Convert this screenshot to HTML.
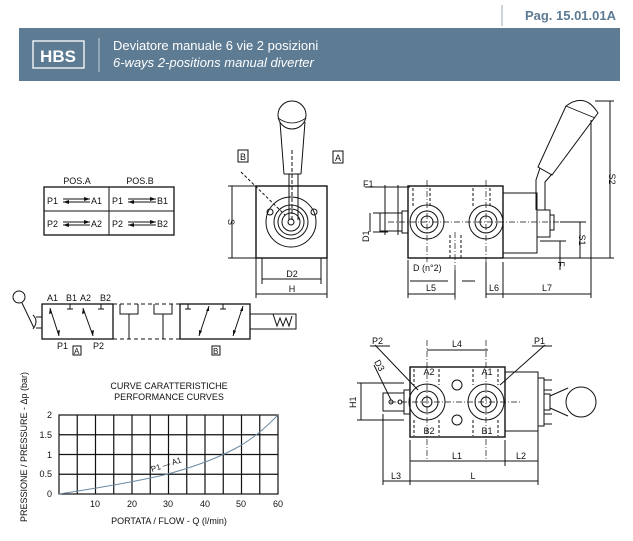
<!DOCTYPE html>
<html><head><meta charset="utf-8"><style>
html,body{margin:0;padding:0;background:#fff;}
svg{display:block;font-family:"Liberation Sans",sans-serif;}
</style></head><body>
<svg width="633" height="541" viewBox="0 0 633 541" xmlns="http://www.w3.org/2000/svg">
<!-- header -->
<line x1="502" y1="5" x2="502" y2="26" stroke="#9aa9b6" stroke-width="1"/>
<text x="616" y="20" font-size="13" font-weight="bold" fill="#5d7a93" text-anchor="end">Pag. 15.01.01A</text>
<rect x="19" y="28" width="601" height="53" fill="#5d7b93"/>
<rect x="33" y="41" width="51" height="27" fill="none" stroke="#fff" stroke-width="1.3"/>
<text x="58" y="62" font-size="17" font-weight="bold" fill="#fff" text-anchor="middle">HBS</text>
<line x1="99" y1="38" x2="99" y2="72" stroke="#c8d3dc" stroke-width="1"/>
<text x="113" y="50" font-size="13" fill="#fff">Deviatore manuale 6 vie 2 posizioni</text>
<text x="113" y="67" font-size="13" font-style="italic" fill="#fff">6-ways 2-positions manual diverter</text>

<g stroke="#111" fill="none" stroke-width="1">
<!-- table -->
<rect x="44" y="187" width="130" height="48" stroke-width="1.3"/>
<line x1="109" y1="187" x2="109" y2="235"/>
<line x1="44" y1="211" x2="174" y2="211"/>
<line x1="63" y1="199" x2="90" y2="199"/><line x1="63" y1="202" x2="90" y2="202"/>
<line x1="128" y1="199" x2="156" y2="199"/><line x1="128" y1="202" x2="156" y2="202"/>
<line x1="63" y1="222" x2="90" y2="222"/><line x1="63" y1="225" x2="90" y2="225"/>
<line x1="128" y1="222" x2="156" y2="222"/><line x1="128" y1="225" x2="156" y2="225"/>
</g>
<g fill="#111">
<path d="M90 199 l-6 -2 v4z M63 202 l6 -2 v4z M156 199 l-6 -2 v4z M128 202 l6 -2 v4z M90 222 l-6 -2 v4z M63 225 l6 -2 v4z M156 222 l-6 -2 v4z M128 225 l6 -2 v4z"/>
</g>
<g font-size="9" fill="#111">
<text x="77" y="184" text-anchor="middle">POS.A</text><text x="140" y="184" text-anchor="middle">POS.B</text>
<text x="47" y="204">P1</text><text x="91" y="204">A1</text><text x="112" y="204">P1</text><text x="157" y="204">B1</text>
<text x="47" y="227">P2</text><text x="91" y="227">A2</text><text x="112" y="227">P2</text><text x="157" y="227">B2</text>
</g>

<!-- symbol -->
<g stroke="#111" fill="none" stroke-width="1">
<circle cx="19" cy="297" r="6"/>
<line x1="22" y1="303" x2="34" y2="328"/>
<path d="M33 315 q6 6 0 14"/><line x1="36" y1="317" x2="42" y2="317"/><line x1="36" y1="328" x2="42" y2="328"/>
<rect x="42" y="304" width="71" height="35" stroke-width="1.3"/>
<rect x="180" y="304" width="70" height="35" stroke-width="1.3"/>
<line x1="113" y1="304" x2="180" y2="304" stroke-dasharray="4,3"/>
<line x1="113" y1="339" x2="180" y2="339" stroke-dasharray="4,3"/>
<path d="M120 304 v10 h18 v-10 M129 314 v25 M154 304 v10 h18 v-10 M163 314 v25"/>
<line x1="50" y1="308" x2="59" y2="336"/><line x1="83" y1="308" x2="93" y2="336"/>
<path d="M67 309 h6 M70 304 v5 M98 309 h6 M101 304 v5 M185 309 h6 M188 304 v5 M220 309 h6 M223 304 v5"/>
<line x1="209" y1="306" x2="199" y2="336"/><line x1="243" y1="306" x2="233" y2="336"/>
<path d="M250 314 h46 v15 h-46"/>
<path d="M273 314 l4 12 l3 -8 l3 8 l3 -8 l3 8 l3 -10"/>
<rect x="73" y="346" width="8" height="9"/><rect x="212" y="346" width="8" height="9"/>
</g>
<g fill="#111"><path d="M50 308 l-1 6 l3 -1z M59 336 l1 -6 l-3 1z M83 308 l-1 6 l3 -1z M93 336 l1 -6 l-3 1z M209 306 l-3 5 l3 0z M199 336 l0 -6 l3 1z M243 306 l-3 5 l3 0z M233 336 l0 -6 l3 1z"/></g>
<g font-size="9" fill="#111">
<text x="47" y="301">A1</text><text x="66" y="301">B1</text><text x="80" y="301">A2</text><text x="100" y="301">B2</text>
<text x="57" y="349">P1</text><text x="93" y="349">P2</text>
<text x="74" y="354" font-size="8">A</text><text x="213" y="354" font-size="8">B</text>
</g>

<!-- chart -->
<g stroke="#111" stroke-width="1.2" fill="none">
<rect x="59" y="415" width="219" height="79"/>
<path d="M77.25 415v79M95.5 415v79M113.75 415v79M132 415v79M150.25 415v79M168.5 415v79M186.75 415v79M205 415v79M223.25 415v79M241.5 415v79M259.75 415v79M59 434.75h219M59 454.5h219M59 474.25h219"/>
</g>
<path d="M59 494 C90 489 130 483 168 474 C200 465 220 457 240 446 C258 435 268 425 278 415" stroke="#6c8aa3" stroke-width="1" fill="none"/>
<g font-size="9" fill="#111">
<text x="169" y="389" text-anchor="middle">CURVE CARATTERISTICHE</text>
<text x="169" y="400" text-anchor="middle">PERFORMANCE CURVES</text>
<text x="52" y="418" text-anchor="end">2</text><text x="52" y="438" text-anchor="end">1.5</text><text x="52" y="458" text-anchor="end">1</text><text x="52" y="477" text-anchor="end">0.5</text><text x="52" y="497" text-anchor="end">0</text>
<text x="95" y="507" text-anchor="middle">10</text><text x="132" y="507" text-anchor="middle">20</text><text x="168" y="507" text-anchor="middle">30</text><text x="205" y="507" text-anchor="middle">40</text><text x="241" y="507" text-anchor="middle">50</text><text x="278" y="507" text-anchor="middle">60</text>
<text x="169" y="524" text-anchor="middle">PORTATA / FLOW - Q (l/min)</text>
<text transform="translate(27,447) rotate(-90)" text-anchor="middle">PRESSIONE / PRESSURE - Δp (bar)</text>
<text transform="translate(152,472) rotate(-18)" font-size="8">P1 — A1</text>
</g>

<!-- front view -->
<g stroke="#111" fill="none" stroke-width="1">
<rect x="256" y="186" width="71" height="72" stroke-width="1.4"/>
<circle cx="291" cy="222" r="25"/><circle cx="291" cy="222" r="17"/><circle cx="291" cy="222" r="13"/><circle cx="291" cy="222" r="9"/><circle cx="291" cy="222" r="3"/>
<circle cx="270" cy="212" r="3"/><circle cx="314" cy="212" r="3"/>
<path d="M289 220 V174 M298 220 V174"/>
<path d="M284 174 L280 122 M301 174 L305 122 M284 174 H301"/>
<ellipse cx="292" cy="115" rx="14" ry="14"/>
<path d="M278 118 Q292 128 306 118" stroke-width="0.8"/>
<line x1="292" y1="150" x2="292" y2="220" stroke-dasharray="4,2"/>
<line x1="241" y1="172" x2="285" y2="215" stroke-dasharray="3,2"/>
<rect x="238" y="150" width="10" height="12"/><rect x="333" y="151" width="10" height="12"/>
<path d="M228 186 H256 M228 258 H256 M232 186 V258 M262 258 V284 M321 258 V284 M256 258 V298 M327 258 V298 M262 279 H321 M256 294 H327"/>
</g>
<g font-size="9" fill="#111">
<text x="240" y="160">B</text><text x="335" y="161">A</text>
<text x="292" y="277" text-anchor="middle">D2</text><text x="292" y="292" text-anchor="middle">H</text>
<text transform="translate(228,222) rotate(90)" text-anchor="middle">S</text>
</g>

<!-- side view -->
<g stroke="#111" fill="none" stroke-width="1">
<rect x="408" y="186" width="95" height="72" stroke-width="1.4"/>
<rect x="503" y="193" width="34" height="60"/>
<rect x="537" y="210" width="13" height="27"/><rect x="550" y="215" width="4" height="15"/>
<circle cx="427" cy="222" r="17"/><circle cx="427" cy="222" r="11"/><circle cx="427" cy="222" r="6"/>
<circle cx="486" cy="222" r="17"/><circle cx="486" cy="222" r="11"/><circle cx="486" cy="222" r="6"/>
<rect x="402" y="211" width="6" height="22"/><rect x="380" y="213" width="22" height="18"/>
<path d="M413 188 v18 M430 188 v18 M473 188 v18 M490 188 v18 M450 235 v23 M461 235 v23" stroke-dasharray="3,2"/>
<path d="M536 210 V180 L540 168 M545 210 V182 L552 174"/>
<path d="M538 167 L566 106 Q585 92 598 113 L552 175 Z"/>
<path d="M566 106 L595 118" stroke-width="0.8"/>
<path d="M388 222 H560 M427 180 V262 M486 180 V262 M455 232 V300" stroke-dasharray="6,2,1,2" stroke-width="0.7"/>
<path d="M595 101 H614 M598 258 H614 M610 101 V258 M560 222 H586 M580 222 V258 M540 241 H566 M560 241 V270 M503 258 H614"/>
<path d="M373 213 H388 M373 232 H388 M370 213 V232 M385 185 V235 M398 185 V235 M365 187 H410"/>
<path d="M408 260 V298 M455 270 V298 M486 262 V298 M503 262 V298 M591 120 V298 M408 294 H455 M486 294 H503 M503 294 H591 M410 281 H448 M462 281 H475"/>
</g>
<g font-size="9" fill="#111">
<text x="363" y="187">F1</text>
<text transform="translate(369,242) rotate(-90)">D1</text>
<text x="413" y="271">D (n°2)</text>
<text x="431" y="291" text-anchor="middle">L5</text><text x="494" y="291" text-anchor="middle">L6</text><text x="547" y="291" text-anchor="middle">L7</text>
<text transform="translate(609,179) rotate(90)" text-anchor="middle">S2</text>
<text transform="translate(579,240) rotate(90)" text-anchor="middle">S1</text>
<text transform="translate(558,264) rotate(90)" text-anchor="middle">F</text>
</g>

<!-- top view -->
<g stroke="#111" fill="none" stroke-width="1">
<rect x="410" y="367" width="95" height="70" stroke-width="1.4"/>
<rect x="505" y="372" width="33" height="59"/>
<rect x="538" y="378" width="6" height="48"/>
<path d="M544 380 h8 M544 424 h8 M544 390 h8 M544 414 h8"/>
<rect x="544" y="394" width="6" height="16"/>
<path d="M550 396 L568 388 M550 408 L568 416"/>
<circle cx="581" cy="402" r="15"/>
<circle cx="427" cy="402" r="18"/><circle cx="427" cy="402" r="11"/><circle cx="427" cy="402" r="5"/>
<circle cx="486" cy="402" r="18"/><circle cx="486" cy="402" r="11"/><circle cx="486" cy="402" r="5"/>
<circle cx="457" cy="385" r="5"/><circle cx="457" cy="420" r="5"/>
<rect x="404" y="390" width="6" height="24"/><rect x="383" y="393" width="21" height="18"/>
<circle cx="391" cy="402" r="2"/><circle cx="400" cy="402" r="2"/>
<path d="M414 369 v16 M439 369 v16 M473 369 v16 M498 369 v16 M414 420 v16 M439 420 v16 M473 420 v16 M498 420 v16" stroke-dasharray="3,2"/>
<path d="M427 340 V460 M486 340 V460 M390 402 H520" stroke-dasharray="6,2,1,2" stroke-width="0.7"/>
<line x1="375" y1="345" x2="418" y2="390"/><line x1="545" y1="345" x2="500" y2="385"/>
<line x1="370" y1="346" x2="390" y2="346"/><line x1="532" y1="346" x2="552" y2="346"/>
<line x1="374" y1="365" x2="391" y2="400"/>
<path d="M427 350 H488 M357 383 H404 M357 420 H404 M361 383 V420 M410 440 V485 M505 440 V466 M538 431 V485 M383 414 V485 M410 461 H505 M505 461 H538 M410 481 H538 M383 481 H410"/>
</g>
<g font-size="9" fill="#111">
<text x="372" y="344">P2</text><text x="534" y="344">P1</text>
<text x="457" y="347" text-anchor="middle">L4</text>
<text x="429" y="375" text-anchor="middle">A2</text><text x="487" y="375" text-anchor="middle">A1</text>
<text x="429" y="434" text-anchor="middle">B2</text><text x="487" y="434" text-anchor="middle">B1</text>
<text transform="translate(356,408) rotate(-90)">H1</text>
<text transform="translate(374,362) rotate(60)">D3</text>
<text x="457" y="459" text-anchor="middle">L1</text><text x="521" y="459" text-anchor="middle">L2</text>
<text x="473" y="479" text-anchor="middle">L</text><text x="396" y="479" text-anchor="middle">L3</text>
</g>
</svg>
</body></html>
